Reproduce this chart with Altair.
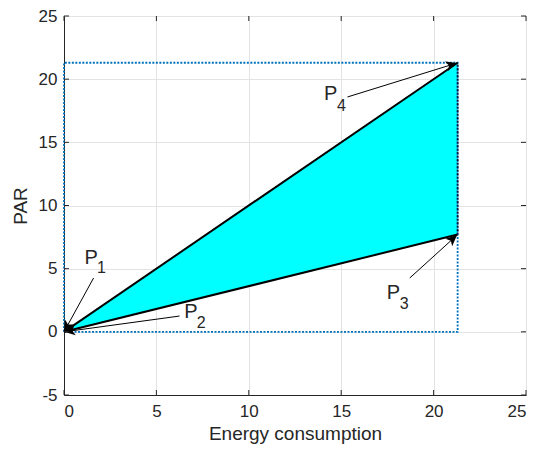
import math
import altair as alt
import pandas as pd

# ---- data (in data units) ----
tri_x = [0.0, 21.3]
tri_top = [0.0, 21.3]
tri_bot = [0.0, 7.7]

rect_x = [0.0, 21.3, 21.3, 0.0, 0.0]
rect_y = [0.0, 0.0, 21.3, 21.3, 0.0]

arrow_names = ["P1", "P2", "P3", "P4"]
arrow_x0 = [1.60, 6.25, 18.71, 15.34]
arrow_y0 = [4.26, 1.25, 4.26, 18.59]
arrow_x1 = [0.0, 0.0, 21.27, 21.27]
arrow_y1 = [0.0, 0.0, 7.66, 21.28]

lab_main_x = [1.47, 6.87, 17.83, 14.43]
lab_main_y = [5.84, 1.59, 3.07, 18.79]
lab_sub_x = [2.03, 7.42, 18.41, 15.02]
lab_sub_y = [5.05, 0.66, 2.24, 17.88]
lab_sub = ["1", "2", "3", "4"]

x_ticks = [0, 5, 10, 15, 20, 25]
y_ticks = [-5, 0, 5, 10, 15, 20, 25]

W, H = 462, 379
PAD = {"top": 8, "left": 56, "right": 8, "bottom": 49}
XD, YD = [0, 25], [-5, 25]
kx = W / (XD[1] - XD[0])
ky = H / (YD[1] - YD[0])

xs = alt.Scale(domain=XD, nice=False, zero=False)
ys = alt.Scale(domain=YD, nice=False, zero=False)

FONT = "Liberation Sans"
TXT = "#262626"

xaxis = alt.Axis(values=x_ticks, title="Energy consumption", grid=True, gridColor="#e3e3e3",
                 ticks=False, labelPadding=8, labelFontSize=17, titleFontSize=19,
                 titleFontWeight="normal", titlePadding=5, domainColor=TXT, labelColor=TXT,
                 titleColor=TXT, labelFont=FONT, titleFont=FONT, labelExpr="'' + datum.value")
yaxis = alt.Axis(values=y_ticks, title="PAR", grid=True, gridColor="#e3e3e3",
                 ticks=False, labelPadding=7, labelFontSize=17, titleFontSize=19,
                 titleFontWeight="normal", titlePadding=8, domainColor=TXT, labelColor=TXT,
                 titleColor=TXT, labelFont=FONT, titleFont=FONT, labelExpr="'' + datum.value")

tri_df = pd.DataFrame({"x": tri_x, "top": tri_top, "bot": tri_bot})
area = alt.Chart(tri_df).mark_area(color="#00FFFF", opacity=1).encode(
    x=alt.X("x:Q", scale=xs, axis=xaxis),
    y=alt.Y("top:Q", scale=ys, axis=yaxis),
    y2="bot:Q",
)

edges_df = pd.DataFrame({
    "x": [0.0, tri_x[1], 0.0, tri_x[1]],
    "y": [0.0, tri_top[1], 0.0, tri_bot[1]],
    "g": ["a", "a", "b", "b"],
})
edges = alt.Chart(edges_df).mark_line(color="black", strokeWidth=2).encode(
    x=alt.X("x:Q", scale=xs), y=alt.Y("y:Q", scale=ys), detail="g:N")

rect_df = pd.DataFrame({"x": rect_x, "y": rect_y, "o": list(range(len(rect_x)))})
rect = alt.Chart(rect_df).mark_line(color="#0072BD", strokeWidth=1.8, strokeDash=[2, 1.5]).encode(
    x=alt.X("x:Q", scale=xs), y=alt.Y("y:Q", scale=ys), order="o:Q")

right_df = pd.DataFrame({"x": [tri_x[1], tri_x[1]], "y": [tri_bot[1], tri_top[1]]})
right_edge = alt.Chart(right_df).mark_line(color="#0a1a40", strokeWidth=1.8, strokeDash=[2, 1.5]).encode(
    x=alt.X("x:Q", scale=xs), y=alt.Y("y:Q", scale=ys))

arr_rows = []
for n, a, b, c, d in zip(arrow_names, arrow_x0, arrow_y0, arrow_x1, arrow_y1):
    arr_rows.append({"g": n, "x": a, "y": b})
    arr_rows.append({"g": n, "x": c, "y": d})
arr_df = pd.DataFrame(arr_rows)
arr_lines = alt.Chart(arr_df).mark_line(color="black", strokeWidth=1).encode(
    x=alt.X("x:Q", scale=xs), y=alt.Y("y:Q", scale=ys), detail="g:N")

heads = []
for a, b, c, d in zip(arrow_x0, arrow_y0, arrow_x1, arrow_y1):
    ang = math.degrees(math.atan2((c - a) * kx, (d - b) * ky)) % 360
    heads.append({"x": c, "y": d, "ang": ang})
head_df = pd.DataFrame(heads)
head_path = "M0,0 L-0.45,1 L0,0.75 L0.45,1 Z"
arr_heads = alt.Chart(head_df).mark_point(shape=head_path, filled=True, color="black",
                                          opacity=1, size=500).encode(
    x=alt.X("x:Q", scale=xs), y=alt.Y("y:Q", scale=ys),
    angle=alt.Angle("ang:Q", scale=None))

lab_df = pd.DataFrame({"x": lab_main_x, "y": lab_main_y, "t": ["P"] * 4})
labs = alt.Chart(lab_df).mark_text(fontSize=20, font=FONT, color=TXT, align="center",
                                   baseline="middle").encode(
    x=alt.X("x:Q", scale=xs), y=alt.Y("y:Q", scale=ys), text="t:N")
sub_df = pd.DataFrame({"x": lab_sub_x, "y": lab_sub_y, "t": lab_sub})
subs = alt.Chart(sub_df).mark_text(fontSize=16, font=FONT, color=TXT, align="center",
                                   baseline="middle").encode(
    x=alt.X("x:Q", scale=xs), y=alt.Y("y:Q", scale=ys), text="t:N")

# inward ticks (MATLAB style)
xt_df = pd.DataFrame({"v": x_ticks})
yt_df = pd.DataFrame({"v": y_ticks})
xt_bot = alt.Chart(xt_df).mark_rule(color=TXT).encode(
    x=alt.X("v:Q", scale=xs), y=alt.value(H), y2=alt.value(H - 5))
xt_top = alt.Chart(xt_df).mark_rule(color=TXT).encode(
    x=alt.X("v:Q", scale=xs), y=alt.value(0), y2=alt.value(5))
yt_l = alt.Chart(yt_df).mark_rule(color=TXT).encode(
    y=alt.Y("v:Q", scale=ys), x=alt.value(0), x2=alt.value(5))
yt_r = alt.Chart(yt_df).mark_rule(color=TXT).encode(
    y=alt.Y("v:Q", scale=ys), x=alt.value(W), x2=alt.value(W - 5))

chart = alt.layer(area, rect, edges, right_edge, arr_lines, arr_heads, labs, subs,
                  xt_bot, xt_top, yt_l, yt_r).properties(
    width=W, height=H,
    padding=PAD,
    autosize=alt.AutoSizeParams(type="none"),
).configure_view(stroke=TXT, strokeWidth=1).configure(background="white")

chart.save("out.html", embed_options={"renderer": "svg", "actions": False})
